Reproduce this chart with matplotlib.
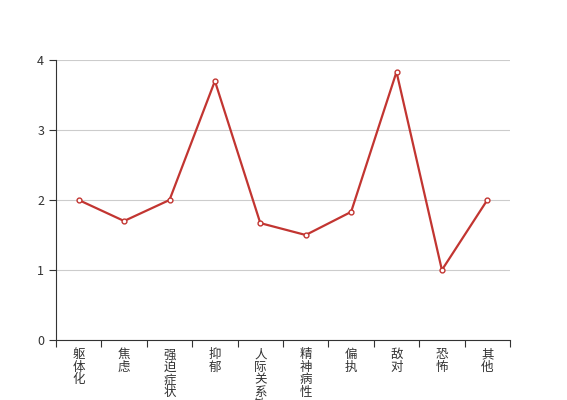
import matplotlib
matplotlib.use("Agg")
import matplotlib.pyplot as plt
import numpy as np

plt.rcParams['font.family'] = ['Noto Sans CJK SC', 'DejaVu Sans']

categories = ["躯体化", "焦虑", "强迫症状", "抑郁", "人际关系敏感", "精神病性", "偏执", "敌对", "恐怖", "其他"]
values = [2.0, 1.7, 2.0, 3.7, 1.67, 1.5, 1.83, 3.83, 1.0, 2.0]

fig = plt.figure(figsize=(5.67, 4), dpi=100)
ax = fig.add_axes([56 / 567, 60 / 400, 454 / 567, 280 / 400])

x = np.arange(len(categories))
ax.plot(x, values, color="#c23531", lw=1.6, marker="o", ms=3.5,
        mfc="white", mec="#c23531", mew=1.0, zorder=3)

ax.set_xlim(-0.5, len(categories) - 0.5)
ax.set_ylim(0, 4)
ax.set_yticks([0, 1, 2, 3, 4])
ax.grid(axis="y", color="#cccccc", lw=0.8)
ax.set_axisbelow(True)

# ticks on band edges, labels at band centres
ax.set_xticks(np.arange(-0.5, len(categories)), labels=[])
ax.set_xticks(x, labels=["\n".join(c) for c in categories], minor=True)
ax.tick_params(axis="x", which="major", length=5, color="#333333", direction="out")
ax.tick_params(axis="x", which="minor", length=0, pad=6, labelsize=9, labelcolor="#333333")
ax.tick_params(axis="y", length=5, color="#333333", labelsize=9, labelcolor="#333333")
for lab in ax.get_xticklabels(minor=True):
    lab.set_linespacing(0.95)
    lab.set_verticalalignment("top")

for s in ["top", "right"]:
    ax.spines[s].set_visible(False)
for s in ["left", "bottom"]:
    ax.spines[s].set_color("#333333")

fig.savefig("out.png", dpi=100)
